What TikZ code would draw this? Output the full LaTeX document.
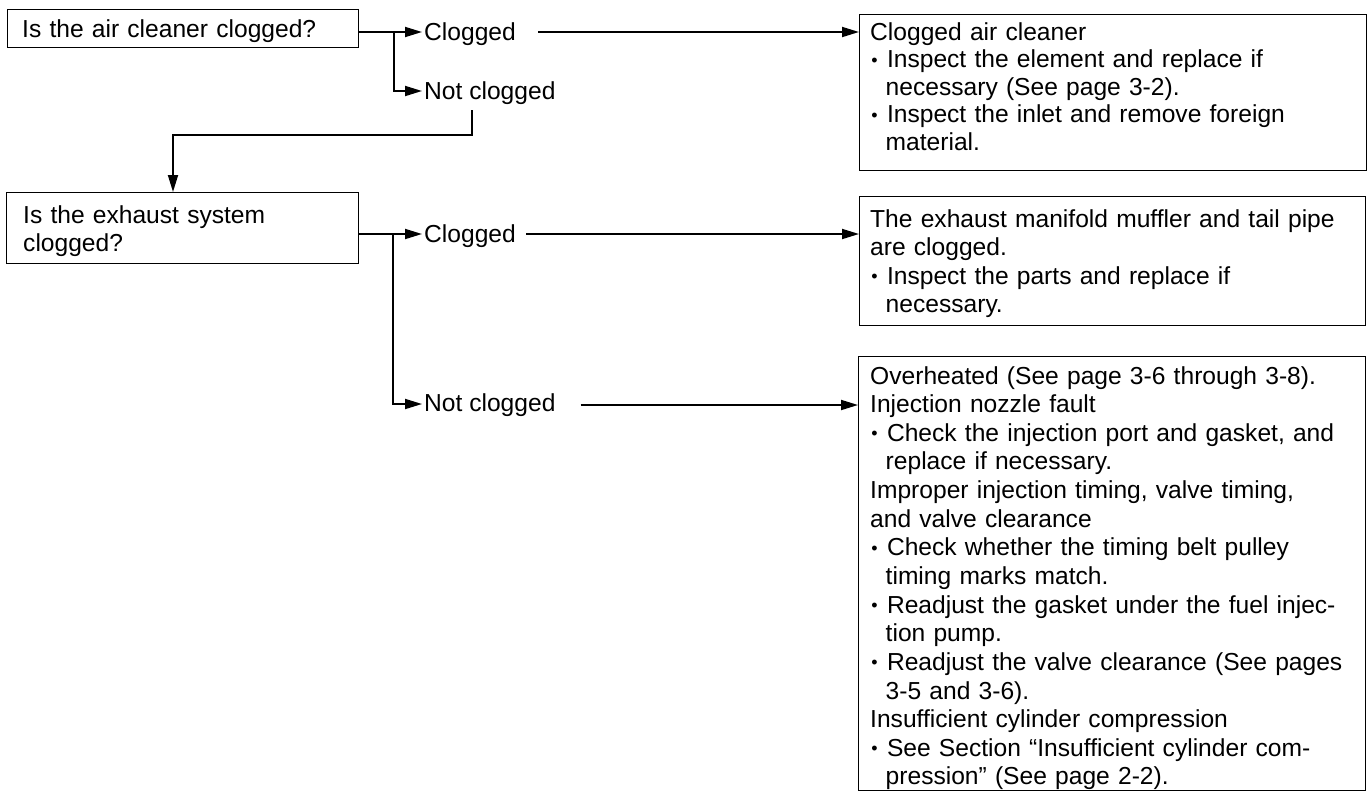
\documentclass[tikz,border=0pt]{standalone}
\usepackage{fontspec}
\setmainfont{Liberation Sans}
\usetikzlibrary{arrows.meta}
\newcommand{\hang}{\hspace*{15.5pt}}
\newcommand{\bul}{\makebox[8.6pt][c]{\raisebox{1.5pt}{\fontsize{18}{0}\selectfont •}}}
\begin{document}
\begin{tikzpicture}[x=1pt,y=-1pt,
  box/.style={draw, line width=1.3pt, inner sep=0pt, anchor=north west},
  txt/.style={anchor=base west, inner sep=0pt, text width=500pt, align=left,
    font=\fontsize{24.6}{#1}\selectfont},
  txt/.default=28.6,
  lbl/.style={anchor=base west, inner sep=0pt, font=\fontsize{24.6}{28.6}\selectfont},
  conn/.style={line width=1.8pt},
  arr/.style={conn, -{Triangle[length=17pt,width=10pt]}},
]
\useasboundingbox (0,0) rectangle (1369,801);

% question boxes
\node[box, minimum width=351pt, minimum height=38pt] (Q1) at (7,9) {};
\node[txt] (Q1t) at (22,37) {Is the air cleaner clogged?};
\node[box, minimum width=352pt, minimum height=71pt] (Q2) at (6,192) {};
\node[txt=28] (Q2t) at (23,223) {Is the exhaust system\\clogged?};

% result boxes
\node[box, minimum width=507pt, minimum height=156pt] (RA) at (859,14) {};
\node[txt=27.5] (RAt) at (870,40) {Clogged air cleaner\\
\bul{} Inspect the element and replace if\\
\hang necessary (See page 3-2).\\
\bul{} Inspect the inlet and remove foreign\\
\hang material.};

\node[box, minimum width=506pt, minimum height=129pt] (RB) at (859,196) {};
\node[txt] (RBt) at (870,227) {The exhaust manifold muffler and tail pipe\\
are clogged.\\
\bul{} Inspect the parts and replace if\\
\hang necessary.};

\node[box, minimum width=507pt, minimum height=434pt] (RC) at (858,356) {};
\node[txt=28.64] (RCt) at (870,384) {Overheated (See page 3-6 through 3-8).\\
Injection nozzle fault\\
\bul{} Check the injection port and gasket, and\\
\hang replace if necessary.\\
Improper injection timing, valve timing,\\
and valve clearance\\
\bul{} Check whether the timing belt pulley\\
\hang timing marks match.\\
\bul{} Readjust the gasket under the fuel injec-\\
\hang tion pump.\\
\bul{} Readjust the valve clearance (See pages\\
\hang 3-5 and 3-6).\\
Insufficient cylinder compression\\
\bul{} See Section ``Insufficient cylinder com-\\
\hang pression'' (See page 2-2).};

% branch labels
\node[lbl] (C1) at (424,40) {Clogged};
\node[lbl] (N1) at (424,99) {Not clogged};
\node[lbl] (C2) at (424,242) {Clogged};
\node[lbl] (N2) at (424,411) {Not clogged};

% junctions
\coordinate (J1) at (394,32);
\coordinate (J2) at (393,234);
\coordinate (d1) at (472,110);
\coordinate (d2) at (173,135);

% first question
\draw[conn] (Q1.east |- J1) -- (J1);
\draw[arr, shorten >=2pt] (J1) -- (C1.west |- J1);
\draw[arr, shorten >=2pt] (J1) |- (N1.west |- 0,91);
\draw[arr] ([xshift=22pt]C1.east |- J1) -- (RA.west |- J1);
\draw[arr] (d1) |- (d2) -- (d2 |- Q2.north);

% second question
\draw[conn] (Q2.east |- J2) -- (J2);
\draw[arr, shorten >=2pt] (J2) -- (C2.west |- J2);
\draw[arr, shorten >=2pt] (J2) |- (N2.west |- 0,404);
\draw[arr] ([xshift=10pt]C2.east |- J2) -- (RB.west |- J2);
\draw[arr] ([xshift=25pt]N2.east |- 0,405) -- (RC.west |- 0,405);
\end{tikzpicture}
\end{document}
